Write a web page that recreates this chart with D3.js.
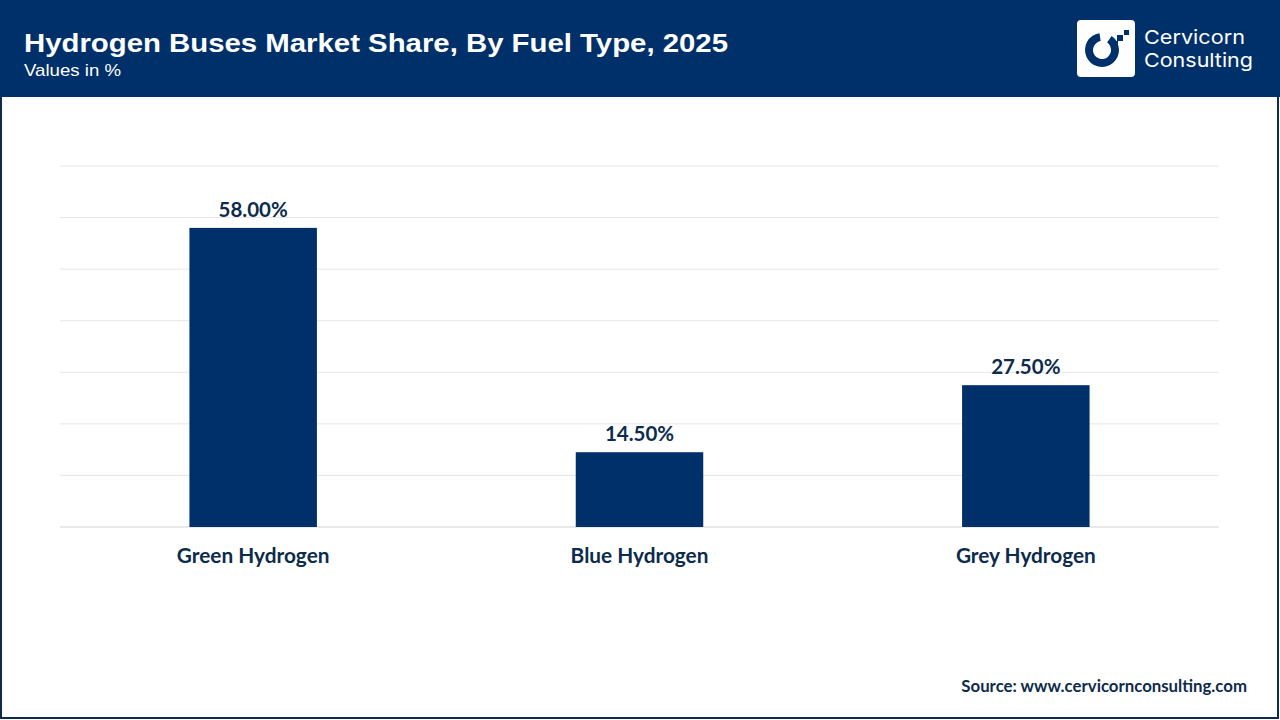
<!DOCTYPE html>
<html><head><meta charset="utf-8">
<script src="https://cdn.jsdelivr.net/npm/d3@7/dist/d3.min.js"></script>
<style>
html,body{margin:0;padding:0;background:#fff;}
svg{display:block;}
</style></head>
<body>
<svg id="chart" width="1280" height="720"></svg>
<script>
const categories = ["Green Hydrogen", "Blue Hydrogen", "Grey Hydrogen"];
const shareValues = [58.0, 14.5, 27.5];
const yTicks = [0, 10, 20, 30, 40, 50, 60, 70];

(function () {
const svg = d3.select("#chart");
const W = 1280, H = 720;
const navy = "#003069";

// Outer frame
svg.append("rect").attr("x", 1).attr("y", 1).attr("width", W - 3).attr("height", H - 3)
  .attr("fill", "#fff").attr("stroke", "#0d2b4c").attr("stroke-width", 2);

// Header
svg.append("rect").attr("x", 0).attr("y", 0).attr("width", W).attr("height", 97).attr("fill", navy);
svg.append("text").attr("x", 24).attr("y", 52)
  .attr("font-family", "Liberation Sans, Arial, sans-serif").attr("font-weight", "bold")
  .attr("font-size", 26).attr("fill", "#fff")
  .attr("textLength", 704).attr("lengthAdjust", "spacingAndGlyphs")
  .text("Hydrogen Buses Market Share, By Fuel Type, 2025");
svg.append("text").attr("x", 24).attr("y", 76)
  .attr("font-family", "Liberation Sans, Arial, sans-serif")
  .attr("font-size", 17).attr("fill", "#fff")
  .attr("textLength", 97).attr("lengthAdjust", "spacingAndGlyphs")
  .text("Values in %");

// Logo
const logo = svg.append("g");
logo.append("rect").attr("x", 1077).attr("y", 20).attr("width", 58).attr("height", 57)
  .attr("rx", 4).attr("fill", "#fff");
const arc = d3.arc().innerRadius(9).outerRadius(17).startAngle(0.6).endAngle(2 * Math.PI - 0.15);
logo.append("path").attr("d", arc()).attr("transform", "translate(1102,50)").attr("fill", navy);
logo.append("rect").attr("x", 1117).attr("y", 35).attr("width", 6).attr("height", 6).attr("fill", navy);
logo.append("rect").attr("x", 1124).attr("y", 30).attr("width", 5).attr("height", 5).attr("fill", navy);
logo.append("rect").attr("x", 1112).attr("y", 41).attr("width", 6).attr("height", 6).attr("fill", navy);
logo.append("text").attr("x", 1144).attr("y", 44).attr("font-family", "Inter, Noto Sans, sans-serif")
  .attr("font-size", 19).attr("fill", "#fff")
  .attr("textLength", 101).attr("lengthAdjust", "spacingAndGlyphs").text("Cervicorn");
logo.append("text").attr("x", 1144).attr("y", 67).attr("font-family", "Inter, Noto Sans, sans-serif")
  .attr("font-size", 19).attr("fill", "#fff")
  .attr("textLength", 109).attr("lengthAdjust", "spacingAndGlyphs").text("Consulting");

// Scales
const pLeft = 60, pRight = 1219, pTop = 166, pBottom = 527;
const x = d3.scaleBand().domain(categories).range([pLeft, pRight]).paddingInner(0.67).paddingOuter(0.335);
const y = d3.scaleLinear().domain([0, 70]).range([pBottom, pTop]);

// Gridlines
svg.append("g").selectAll("line").data(yTicks).join("line")
  .attr("x1", pLeft).attr("x2", pRight)
  .attr("y1", d => y(d)).attr("y2", d => y(d))
  .attr("stroke", d => d === 0 ? "#d4d4d4" : "#e6e6e6").attr("stroke-width", 1);

// Bars
svg.append("g").selectAll("rect").data(categories).join("rect")
  .attr("x", d => x(d)).attr("width", x.bandwidth())
  .attr("y", (d, i) => y(shareValues[i]))
  .attr("height", (d, i) => y(0) - y(shareValues[i]))
  .attr("fill", navy);

// Value labels
svg.append("g").selectAll("text").data(categories).join("text")
  .attr("x", d => x(d) + x.bandwidth() / 2)
  .attr("y", (d, i) => y(shareValues[i]) - 11)
  .attr("text-anchor", "middle")
  .attr("font-family", "Lato, sans-serif").attr("font-weight", "bold")
  .attr("font-size", 20.5).attr("fill", "#0d2b4c")
  .text((d, i) => shareValues[i].toFixed(2) + "%");

// Category axis
const xAxis = svg.append("g").attr("transform", `translate(0,${pBottom})`)
  .call(d3.axisBottom(x).tickSize(0).tickPadding(21));
xAxis.select(".domain").remove();
xAxis.selectAll("text").attr("font-family", "Lato, sans-serif").attr("font-weight", "bold")
  .attr("font-size", 20.8).attr("fill", "#0d2b4c");

// Source
svg.append("text").attr("x", 1247).attr("y", 692).attr("text-anchor", "end")
  .attr("font-family", "Lato, sans-serif").attr("font-weight", "bold")
  .attr("font-size", 16.8).attr("fill", "#0d2b4c").text("Source: www.cervicornconsulting.com");
})();
</script>
</body></html>
